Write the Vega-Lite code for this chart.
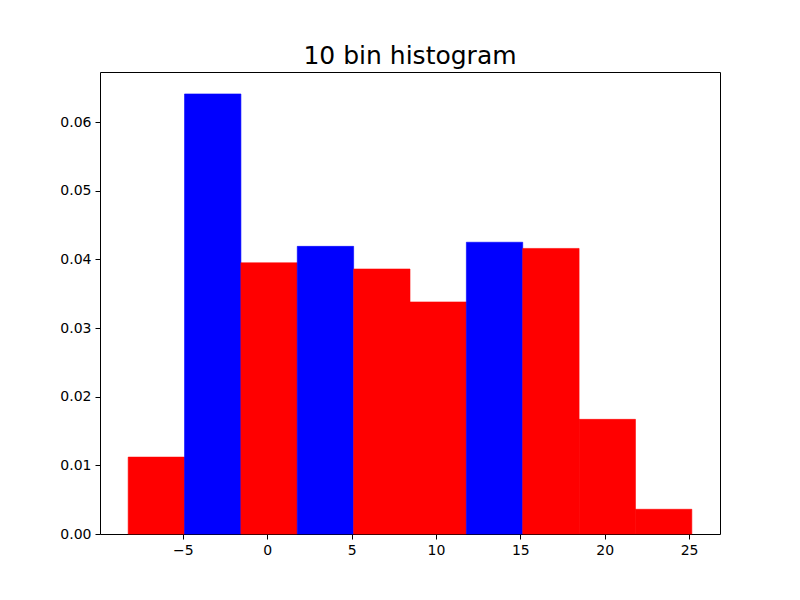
{
  "$schema": "https://vega.github.io/schema/vega-lite/v6.json",
  "width": 620,
  "height": 462,
  "autosize": {"type": "none"},
  "padding": {"left": 100, "top": 72, "right": 80, "bottom": 66},
  "background": "white",
  "title": {
    "text": "10 bin histogram",
    "fontSize": 25,
    "font": "DejaVu Sans",
    "fontWeight": "normal",
    "color": "black",
    "anchor": "middle",
    "baseline": "alphabetic",
    "offset": 8,
    "dy": 25
  },
  "config": {
    "view": {"stroke": "black", "strokeWidth": 1},
    "axis": {
      "grid": false,
      "domain": false,
      "tickColor": "black",
      "tickSize": 5,
      "labelFont": "DejaVu Sans",
      "labelFontSize": 14,
      "labelColor": "black",
      "labelPadding": 4,
      "title": null
    }
  },
  "data": {
    "values": [
      {"start": -8.24, "end": -4.90, "density": 0.0112, "group": "red"},
      {"start": -4.90, "end": -1.56, "density": 0.0641, "group": "blue"},
      {"start": -1.56, "end": 1.78, "density": 0.0395, "group": "red"},
      {"start": 1.78, "end": 5.12, "density": 0.0419, "group": "blue"},
      {"start": 5.12, "end": 8.46, "density": 0.0386, "group": "red"},
      {"start": 8.46, "end": 11.80, "density": 0.0338, "group": "red"},
      {"start": 11.80, "end": 15.14, "density": 0.0425, "group": "blue"},
      {"start": 15.14, "end": 18.48, "density": 0.0416, "group": "red"},
      {"start": 18.48, "end": 21.82, "density": 0.0167, "group": "red"},
      {"start": 21.82, "end": 25.16, "density": 0.0036, "group": "red"}
    ]
  },
  "mark": {"type": "bar", "strokeWidth": 0.6},
  "encoding": {
    "x": {
      "field": "start",
      "type": "quantitative",
      "scale": {"domain": [-9.91, 26.83], "nice": false, "zero": false},
      "axis": {"values": [-5, 0, 5, 10, 15, 20, 25], "format": "d"}
    },
    "x2": {"field": "end"},
    "y": {
      "field": "density",
      "type": "quantitative",
      "scale": {"domain": [0, 0.0673], "nice": false},
      "axis": {"values": [0, 0.01, 0.02, 0.03, 0.04, 0.05, 0.06], "format": ".2f"}
    },
    "y2": {"datum": 0},
    "color": {
      "field": "group",
      "type": "nominal",
      "scale": {"domain": ["red", "blue"], "range": ["#ff0000", "#0000ff"]},
      "legend": null
    },
    "stroke": {
      "field": "group",
      "type": "nominal",
      "scale": {"domain": ["red", "blue"], "range": ["#ff0000", "#0000ff"]},
      "legend": null
    }
  }
}
